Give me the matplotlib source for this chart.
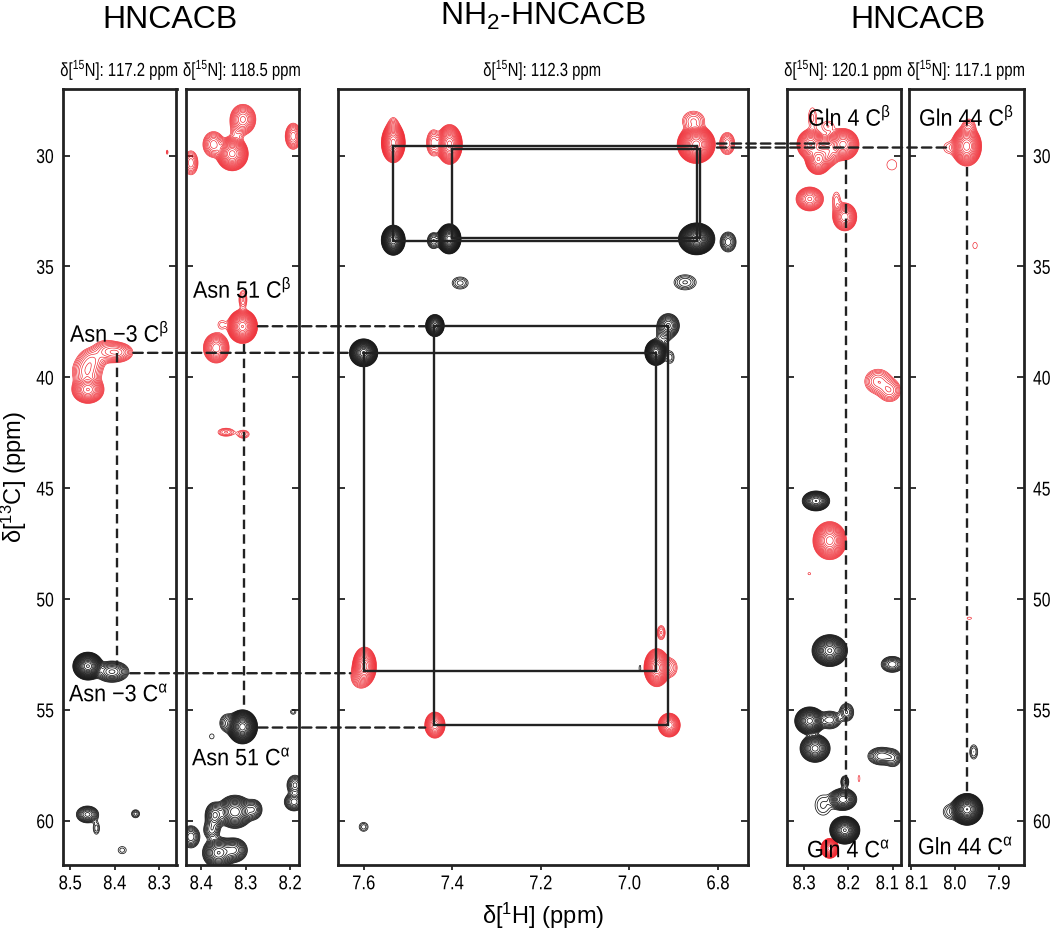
"""HNCACB / NH2-HNCACB strip plot, five panels of 2D NMR contours."""
import numpy as np
import matplotlib
matplotlib.use("Agg")
import matplotlib.pyplot as plt
from matplotlib.patches import ConnectionPatch
from matplotlib.patheffects import AbstractPathEffect
from matplotlib.transforms import Affine2D, ScaledTranslation

matplotlib.rcParams["font.family"] = ["Liberation Sans", "DejaVu Sans"]
matplotlib.rcParams["mathtext.fontset"] = "custom"
matplotlib.rcParams["mathtext.rm"] = "Liberation Sans"
matplotlib.rcParams["mathtext.it"] = "Liberation Sans:italic"
matplotlib.rcParams["mathtext.default"] = "regular"
matplotlib.rcParams["axes.unicode_minus"] = False

W, H = 1050, 930
COLOR_RED = "#ee1c25"
COLOR_BLACK = "#141414"
COLOR_LINE = "#222222"

# peaks: (1H ppm, 13C ppm, 1H outer radius, 13C outer radius, height over lowest contour)
p1_red = [
    (8.460, 40.56, 0.036, 0.62, 40), (8.462, 39.75, 0.033, 0.75, 8),
    (8.395, 38.88, 0.036, 0.45, 10), (8.420, 38.80, 0.027, 0.45, 5),
    (8.450, 39.20, 0.027, 0.50, 5), (8.282, 29.85, 0.002, 0.09, 1.5),
]
p1_black = [
    (8.460, 53.03, 0.034, 0.63, 200), (8.406, 53.28, 0.038, 0.48, 15),
    (8.461, 59.72, 0.025, 0.38, 12), (8.441, 60.34, 0.007, 0.27, 2),
    (8.353, 59.69, 0.009, 0.18, 2.5), (8.383, 61.33, 0.009, 0.16, 1.5),
]
p2_red = [
    (8.306, 28.37, 0.029, 0.68, 20), (8.330, 29.92, 0.036, 0.77, 100),
    (8.372, 29.50, 0.024, 0.58, 10), (8.423, 30.33, 0.016, 0.54, 6),
    (8.193, 29.13, 0.018, 0.59, 10), (8.307, 37.71, 0.034, 0.77, 150),
    (8.306, 36.50, 0.009, 0.41, 3), (8.353, 37.63, 0.009, 0.18, 1.5),
    (8.366, 38.68, 0.029, 0.68, 30), (8.344, 42.48, 0.018, 0.18, 3),
    (8.305, 42.57, 0.013, 0.18, 2.5), (8.320, 29.00, 0.012, 0.35, 2),
]
p2_black = [
    (8.307, 55.77, 0.034, 0.77, 300), (8.340, 55.60, 0.018, 0.41, 4),
    (8.376, 56.20, 0.005, 0.11, 1.3), (8.193, 55.09, 0.006, 0.11, 1.5),
    (8.324, 59.60, 0.040, 0.75, 50), (8.369, 59.75, 0.022, 0.58, 15),
    (8.283, 59.50, 0.020, 0.45, 8), (8.361, 61.45, 0.036, 0.70, 40),
    (8.327, 61.33, 0.031, 0.55, 20), (8.376, 60.40, 0.018, 0.45, 6),
    (8.423, 60.73, 0.020, 0.50, 8), (8.189, 58.40, 0.018, 0.45, 7),
    (8.191, 59.15, 0.022, 0.41, 10),
]
p3_red = [
    (7.533, 29.43, 0.027, 0.90, 100), (7.533, 28.80, 0.012, 0.50, 3),
    (7.406, 29.50, 0.029, 0.90, 100), (7.442, 29.43, 0.016, 0.59, 6),
    (6.849, 29.50, 0.043, 0.86, 300), (6.855, 28.45, 0.025, 0.45, 4),
    (6.779, 29.46, 0.017, 0.50, 6), (7.598, 53.03, 0.027, 0.86, 60),
    (7.608, 53.50, 0.020, 0.50, 5), (6.938, 53.10, 0.029, 0.86, 80),
    (6.908, 53.10, 0.016, 0.41, 3), (6.928, 51.52, 0.009, 0.32, 3),
    (7.439, 55.69, 0.023, 0.59, 30), (6.910, 55.69, 0.025, 0.54, 30),
]
p3_black = [
    (7.533, 33.82, 0.027, 0.68, 200), (7.407, 33.76, 0.027, 0.68, 300),
    (7.442, 33.84, 0.014, 0.36, 5), (6.848, 33.76, 0.041, 0.72, 500),
    (6.777, 33.90, 0.018, 0.45, 6), (7.382, 35.75, 0.018, 0.27, 2.5),
    (6.874, 35.72, 0.025, 0.34, 3), (7.439, 37.67, 0.021, 0.50, 60),
    (6.912, 37.67, 0.025, 0.54, 15), (7.600, 38.90, 0.032, 0.63, 200),
    (6.940, 38.88, 0.025, 0.59, 150), (6.923, 38.15, 0.014, 0.32, 2),
    (6.908, 39.10, 0.009, 0.27, 2), (7.600, 60.28, 0.010, 0.20, 2),
    (6.976, 53.13, 0.002, 0.14, 1.3),
]
p4_red = [
    (8.285, 29.50, 0.031, 0.68, 40), (8.268, 30.18, 0.029, 0.68, 50),
    (8.212, 29.50, 0.036, 0.72, 60), (8.246, 29.73, 0.022, 0.55, 8),
    (8.250, 29.90, 0.030, 0.60, 10), (8.281, 28.30, 0.009, 0.45, 1.8),
    (8.246, 28.68, 0.013, 0.23, 1.7), (8.102, 30.42, 0.011, 0.23, 1.3),
    (8.287, 31.96, 0.031, 0.54, 25), (8.208, 32.77, 0.027, 0.63, 30),
    (8.227, 32.06, 0.009, 0.41, 2), (8.133, 40.19, 0.030, 0.55, 6),
    (8.107, 40.60, 0.025, 0.50, 6), (8.242, 47.37, 0.038, 0.86, 80),
    (8.288, 48.86, 0.003, 0.05, 1.3), (8.176, 58.10, 0.002, 0.14, 1.3),
    (8.242, 61.25, 0.020, 0.45, 60),
]
p4_black = [
    (8.273, 45.58, 0.031, 0.45, 40), (8.242, 52.33, 0.040, 0.72, 120),
    (8.101, 52.95, 0.025, 0.36, 8), (8.287, 55.50, 0.034, 0.63, 100),
    (8.242, 55.46, 0.025, 0.40, 8), (8.204, 55.11, 0.016, 0.40, 5),
    (8.275, 56.74, 0.034, 0.63, 60), (8.125, 57.09, 0.031, 0.40, 8),
    (8.099, 57.19, 0.016, 0.36, 4), (8.208, 58.25, 0.009, 0.27, 4),
    (8.212, 59.04, 0.031, 0.50, 30), (8.257, 59.30, 0.018, 0.45, 1.8),
    (8.208, 60.43, 0.034, 0.63, 200),
]
p5_red = [
    (7.973, 29.58, 0.034, 0.90, 80), (7.968, 28.68, 0.014, 0.32, 3),
    (8.014, 29.65, 0.011, 0.23, 1.5), (7.954, 34.06, 0.005, 0.14, 1.3),
    (7.967, 50.87, 0.005, 0.05, 1.3),
]
p5_black = [
    (7.972, 59.49, 0.036, 0.72, 250), (8.010, 59.60, 0.016, 0.32, 2),
    (7.957, 56.90, 0.009, 0.32, 2.2),
]

n15_labels = ["117.2", "118.5", "112.3", "120.1", "117.1"]
x_ticks = [[8.5, 8.4, 8.3], [8.4, 8.3, 8.2], [7.6, 7.4, 7.2, 7.0, 6.8], [8.3, 8.2, 8.1], [8.1, 8.0, 7.9]]
x_tick_labels = [
    ["8.5", "8.4", "8.3"], ["8.4", "8.3", "8.2"], ["7.6", "7.4", "7.2", "7.0", "6.8"],
    ["8.3", "8.2", "8.1"], ["8.1", "8.0", "7.9"],
]
x_limits = [(8.516, 8.261), (8.434, 8.18), (7.659, 6.732), (8.339, 8.082), (8.103, 7.843)]
c_ticks = [30, 35, 40, 45, 50, 55, 60]

# connected boxes in the middle panel
box_h_left = [7.533, 7.401, 7.442, 7.600]
box_h_right = [6.848, 6.840, 6.912, 6.940]
box_c_top = [29.55, 29.70, 37.70, 38.90]
box_c_bottom = [33.87, 33.72, 55.70, 53.27]

# dashed links between panels
link_panel_a = [1, 0, 0, 1, 2, 2]
link_h_a = [8.272, 8.358, 8.365, 8.272, 6.802, 6.802]
link_panel_b = [2, 2, 2, 2, 3, 4]
link_h_b = [7.461, 7.630, 7.630, 7.461, 8.242, 8.017]
link_c = [37.70, 38.90, 53.35, 55.80, 29.46, 29.64]

# dashed verticals inside a panel
vert_panel = [0, 1, 3, 4]
vert_h = [8.394, 8.304, 8.2045, 7.973]
vert_c_start = [38.9, 38.5, 30.2, 30.5]
vert_c_end = [53.0, 55.0, 59.2, 58.7]

# panel pixel frames
frames = [(63, 176.5), (186, 299), (337.5, 748), (786.7, 900.7), (909.3, 1024)]
TOP, BOTTOM = 89, 865
LEVELS = 1.3 ** np.arange(0, 28)
DASH = (0, (4.0, 2.2))


class Tall(AbstractPathEffect):
    """Stretch glyphs upward about their middle, the labels in the reference are a narrow face."""

    def __init__(self, factor):
        super().__init__()
        self.factor = factor

    def draw_path(self, renderer, gc, tpath, affine, rgbFace=None):
        box = tpath.get_extents()
        cy = box.y0 + box.height / 2
        stretch = Affine2D().translate(0, -cy).scale(1, self.factor).translate(0, cy)
        renderer.draw_path(gc, tpath, stretch + affine, rgbFace)


def draw_peaks(ax, peaks, color, xlim, lw):
    hh = np.linspace(xlim[0], xlim[1], 500)
    cc = np.linspace(27, 62, 1400)
    hg, cg = np.meshgrid(hh, cc)
    z = np.zeros_like(hg)
    for h0, c0, rh, rc, amp in peaks:
        # outer radius is where this peak falls to the lowest contour
        k = 2 * np.log(amp)
        z += amp * np.exp(-k * (((hg - h0) / rh) ** 2 + ((cg - c0) / rc) ** 2) / 2)
    ax.contour(hg, cg, z, levels=LEVELS, colors=color, linewidths=lw)


def px_text(x, y, s, **kw):
    return fig.text(x / W, 1 - y / H, s, **kw)


fig = plt.figure(figsize=(W / 100, H / 100), dpi=100, facecolor="white")

axes = []
all_peaks = [(p1_red, p1_black), (p2_red, p2_black), (p3_red, p3_black), (p4_red, p4_black), (p5_red, p5_black)]
for i, (left, right) in enumerate(frames):
    ax = fig.add_axes([left / W, 1 - BOTTOM / H, (right - left) / W, (BOTTOM - TOP) / H])
    ax.set_xlim(*x_limits[i])
    ax.set_ylim(62, 27)
    draw_peaks(ax, all_peaks[i][0], COLOR_RED, x_limits[i], 0.45)
    draw_peaks(ax, all_peaks[i][1], COLOR_BLACK, x_limits[i], 0.55)
    ax.set_xticks(x_ticks[i])
    ax.set_xticklabels(x_tick_labels[i])
    ax.set_yticks(c_ticks)
    ax.tick_params(axis="x", direction="out", length=3.5, width=1.3, labelsize=12, pad=4.5, color=COLOR_LINE)
    ax.tick_params(axis="y", direction="in", length=5, width=1.3, labelsize=11.3, left=True, right=True,
                   labelleft=(i == 0), labelright=(i == 4), pad=6.5, color=COLOR_LINE)
    for lab in ax.get_xticklabels():
        lab.set_path_effects([Tall(1.2)])
    for tick in ax.yaxis.get_major_ticks():
        tick.label1.set_path_effects([Tall(1.27)])
        tick.label2.set_path_effects([Tall(1.27)])
    for sp in ax.spines.values():
        sp.set_linewidth(2.0)
        sp.set_color(COLOR_LINE)
    axes.append(ax)
    sub = px_text((left + right) / 2, 70, rf"δ[$^{{15}}$N]: {n15_labels[i]} ppm", ha="center", va="center", fontsize=10.7)
    sub.set_path_effects([Tall(1.27)])

# the two neighbouring 8.1 labels are pushed apart, as in the reference
lab = axes[3].get_xticklabels()[2]
lab.set_transform(lab.get_transform() + ScaledTranslation(-0.055, 0, fig.dpi_scale_trans))
lab = axes[4].get_xticklabels()[0]
lab.set_transform(lab.get_transform() + ScaledTranslation(0.06, 0, fig.dpi_scale_trans))

# boxes joining the cross peaks
for hl, hr, ct, cb in zip(box_h_left, box_h_right, box_c_top, box_c_bottom):
    axes[2].plot([hl, hr, hr, hl, hl], [ct, ct, cb, cb, ct], color=COLOR_LINE, lw=1.7, solid_joinstyle="miter", zorder=5)

for pa, ha_, pb, hb, c in zip(link_panel_a, link_h_a, link_panel_b, link_h_b, link_c):
    fig.add_artist(ConnectionPatch(
        xyA=(ha_, c), coordsA=axes[pa].transData,
        xyB=(hb, c), coordsB=axes[pb].transData,
        color=COLOR_LINE, lw=1.7, linestyle=DASH,
    ))

for p, h, c0, c1 in zip(vert_panel, vert_h, vert_c_start, vert_c_end):
    axes[p].plot([h, h], [c0, c1], color=COLOR_LINE, lw=1.7, linestyle=DASH, zorder=5)

# titles and axis labels
px_text(170, 20, "HNCACB", ha="center", va="center", fontsize=23)
px_text(543, 16, "NH$_2$-HNCACB", ha="center", va="center", fontsize=23)
px_text(918, 20, "HNCACB", ha="center", va="center", fontsize=23)
px_text(543, 916, "δ[$^{1}$H] (ppm)", ha="center", va="center", fontsize=17)
px_text(14, 477, "δ[$^{13}$C] (ppm)", ha="center", va="center", rotation=90, fontsize=17)

# peak assignments
assign_text = [r"Asn −3 C$^{\beta}$", r"Asn 51 C$^{\beta}$", r"Asn −3 C$^{\alpha}$", r"Asn 51 C$^{\alpha}$",
               r"Gln 4 C$^{\beta}$", r"Gln 44 C$^{\beta}$", r"Gln 4 C$^{\alpha}$", r"Gln 44 C$^{\alpha}$"]
assign_x = [70, 193, 69, 192, 808, 919, 807, 918]
assign_y = [334, 290, 695, 759, 118, 118, 851, 848]
for s, x, y in zip(assign_text, assign_x, assign_y):
    t = px_text(x, y, s, va="center", fontsize=15.5)
    t.set_path_effects([Tall(1.1)])

fig.savefig("out.png", dpi=100)
plt.close(fig)
